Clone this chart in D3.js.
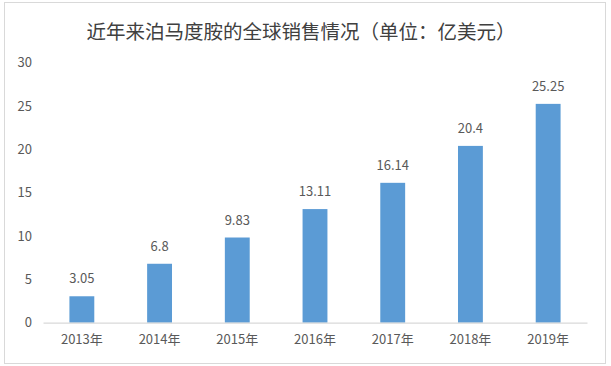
<!DOCTYPE html>
<html><head><meta charset="utf-8">
<script src="https://cdn.jsdelivr.net/npm/d3@7/dist/d3.min.js"></script>
<style>body{margin:0;background:#fff}svg{display:block}</style>
</head><body>
<script>
const title = "近年来泊马度胺的全球销售情况（单位：亿美元）";
const categories = ["2013年","2014年","2015年","2016年","2017年","2018年","2019年"];
const values = [3.05, 6.8, 9.83, 13.11, 16.14, 20.4, 25.25];
const valueLabels = ["3.05","6.8","9.83","13.11","16.14","20.4","25.25"];
const yTicks = [0,5,10,15,20,25,30];

const W = 611, H = 366;
const margin = {left:43, right:24, top:62.7, bottom:43.3};
const svg = d3.select("body").append("svg").attr("width", W).attr("height", H);
const font = "'Noto Sans CJK SC', 'Noto Sans', sans-serif";
const textColor = "#595959";

svg.append("rect").attr("x",4.5).attr("y",2.5).attr("width",601).attr("height",361)
  .attr("fill","#fff").attr("stroke","#d9d9d9").attr("stroke-width",1);

svg.append("text").attr("x",301).attr("y",39).attr("text-anchor","middle")
  .attr("font-family",font).attr("font-size",19.5).attr("fill","#404040").text(title);

const x = d3.scaleBand().domain(categories).range([margin.left, W - margin.right]).paddingInner(0.68).paddingOuter(0.34);
const y = d3.scaleLinear().domain([0,30]).range([H - margin.bottom, margin.top]);

const yAxis = svg.append("g").attr("transform",`translate(${margin.left},0)`)
  .call(d3.axisLeft(y).tickValues(yTicks).tickSize(0).tickPadding(11));
yAxis.select(".domain").remove();
yAxis.selectAll("text").attr("font-family",font).attr("font-size",13).attr("fill",textColor);

svg.selectAll("rect.bar").data(values).join("rect").attr("class","bar")
  .attr("x",(d,i)=>x(categories[i])).attr("width",x.bandwidth())
  .attr("y",d=>y(d)).attr("height",d=>y(0)-y(d)).attr("fill","#5b9bd5");

const xAxis = svg.append("g").attr("transform",`translate(0,${y(0)})`)
  .call(d3.axisBottom(x).tickSize(0).tickPadding(12));
xAxis.select(".domain").attr("stroke","#d9d9d9").attr("stroke-width",1.3);
xAxis.selectAll("text").attr("font-family",font).attr("font-size",13).attr("fill",textColor);

svg.selectAll("text.val").data(values).join("text").attr("class","val")
  .attr("x",(d,i)=>x(categories[i])+x.bandwidth()/2).attr("y",d=>y(d)-13)
  .attr("text-anchor","middle").attr("font-family",font).attr("font-size",13).attr("fill",textColor)
  .text((d,i)=>valueLabels[i]);
</script>
</body></html>
